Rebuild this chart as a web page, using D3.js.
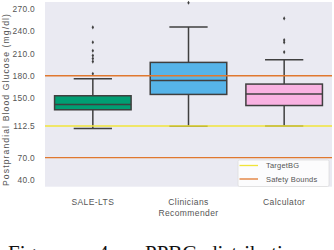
<!DOCTYPE html>
<html><head><meta charset="utf-8">
<script src="https://cdn.jsdelivr.net/npm/d3@7"></script>
<style>html,body{margin:0;padding:0;background:#fff;overflow:hidden}svg{display:block}</style>
</head><body>
<svg id="c" width="334" height="250"></svg>
<script>
const categories = ["SALE-LTS", "Clinicians", "Calculator"];
const whiskerLow = [109, 112, 112.4];
const q1 = [134.3, 154.9, 140];
const medians = [141.4, 173.7, 155.4];
const q3 = [153.1, 197.9, 168.8];
const whiskerHigh = [176, 245.4, 201.5];
const outliers = [
  [182.7, 199, 203, 207, 213.6, 225, 245],
  [278],
  [211.8, 224.8, 228, 257]
];
const yTicks = [40, 70, 112.5, 150, 180, 210, 240, 270];
const targetBG = [112.5];
const safetyBounds = [70, 180];
const boxColors = ["#009e73", "#56b4e9", "#f9b2e2"];

const svg = d3.select("#c");
const L = 45, R = 332, T = 2, B = 186.7;
const x = d3.scaleBand().domain(categories).range([L, R]).padding(0);
const y = d3.scaleLinear().domain([31, 279]).range([B, T]);
const font = "'Liberation Sans', Arial, sans-serif";
const edge = "#3f3f3f";
const txt = "#555";

svg.append("rect").attr("x", L).attr("y", T).attr("width", R - L).attr("height", B - T).attr("fill", "#eaeaf2");

// axes
const yAxis = d3.axisLeft(y).tickValues(yTicks).tickFormat(d3.format(".1f")).tickSize(0).tickPadding(10);
const ga = svg.append("g").attr("transform", `translate(${L},0)`).call(yAxis);
ga.select(".domain").remove();
ga.selectAll("text").attr("font-family", font).attr("font-size", 8.4).attr("letter-spacing", 0.3).attr("fill", txt);

const xAxis = d3.axisBottom(x).tickSize(0).tickPadding(12);
const gx = svg.append("g").attr("transform", `translate(0,${B})`).call(xAxis);
gx.select(".domain").remove();
gx.selectAll("text").attr("font-family", font).attr("font-size", 8.5).attr("letter-spacing", 0.4).attr("fill", txt);

svg.append("text").attr("x", (L + R) / 2).attr("y", 216).attr("text-anchor", "middle")
  .attr("font-family", font).attr("font-size", 8.5).attr("letter-spacing", 0.4).attr("fill", txt).text("Recommender");
svg.append("text").attr("transform", `translate(9,100) rotate(-90)`).attr("text-anchor", "middle")
  .attr("font-family", font).attr("font-size", 8.6).attr("textLength", 172).attr("lengthAdjust", "spacing")
  .attr("fill", txt).text("Postprandial Blood Glucose (mg/dl)");

// boxes
const bw = x.bandwidth() * 0.8;
categories.forEach((c, i) => {
  const cx = x(c) + x.bandwidth() / 2;
  const g = svg.append("g");
  g.append("line").attr("x1", cx).attr("x2", cx).attr("y1", y(whiskerLow[i])).attr("y2", y(q1[i])).attr("stroke", edge).attr("stroke-width", 1.5);
  g.append("line").attr("x1", cx).attr("x2", cx).attr("y1", y(whiskerHigh[i])).attr("y2", y(q3[i])).attr("stroke", edge).attr("stroke-width", 1.5);
  [whiskerLow[i], whiskerHigh[i]].forEach(v => {
    g.append("line").attr("x1", cx - bw / 4).attr("x2", cx + bw / 4).attr("y1", y(v)).attr("y2", y(v)).attr("stroke", edge).attr("stroke-width", 1.5);
  });
  g.append("rect").attr("x", cx - bw / 2).attr("width", bw).attr("y", y(q3[i])).attr("height", y(q1[i]) - y(q3[i]))
    .attr("fill", boxColors[i]).attr("stroke", edge).attr("stroke-width", 1.5);
  g.append("line").attr("x1", cx - bw / 2).attr("x2", cx + bw / 2).attr("y1", y(medians[i])).attr("y2", y(medians[i])).attr("stroke", edge).attr("stroke-width", 1.5);
  g.selectAll("path.o").data(outliers[i]).enter().append("path")
    .attr("d", d3.symbol(d3.symbolDiamond, 5)).attr("transform", d => `translate(${cx},${y(d)})`).attr("fill", edge);
});

// reference lines
svg.selectAll("line.t").data(targetBG).enter().append("line").attr("x1", L).attr("x2", R)
  .attr("y1", d => y(d)).attr("y2", d => y(d)).attr("stroke", "#f0e43a").attr("stroke-width", 1.3);
svg.selectAll("line.s").data(safetyBounds).enter().append("line").attr("x1", L).attr("x2", R)
  .attr("y1", d => y(d)).attr("y2", d => y(d)).attr("stroke", "#e0782f").attr("stroke-width", 1.3);

// legend
const lg = svg.append("g");
lg.append("rect").attr("x", 238).attr("y", 160).attr("width", 91).attr("height", 26.5).attr("rx", 1.5)
  .attr("fill", "#fff").attr("fill-opacity", 0.85).attr("stroke", "#ddd").attr("stroke-width", 0.8);
[["TargetBG", "#f0e43a", 165.5], ["Safety Bounds", "#e0782f", 179]].forEach(([t, col, yy]) => {
  lg.append("line").attr("x1", 239.5).attr("x2", 258).attr("y1", yy).attr("y2", yy).attr("stroke", col).attr("stroke-width", 1.3);
  lg.append("text").attr("x", 266).attr("y", yy + 2.7).attr("font-family", font).attr("font-size", 7.5).attr("letter-spacing", 0.2).attr("fill", txt).text(t);
});

// caption (clipped at bottom, as in the reference)
const cap = svg.append("g").attr("font-family", "'Liberation Serif', 'Times New Roman', serif").attr("font-size", 21).attr("fill", "#111");
cap.append("text").attr("x", 8).attr("y", 260).text("Figure");
cap.append("text").attr("x", 98).attr("y", 260).text("4:");
cap.append("text").attr("x", 145).attr("y", 260).text("PPBG");
cap.append("text").attr("x", 207).attr("y", 260).text("distribution");
</script>
</body></html>
